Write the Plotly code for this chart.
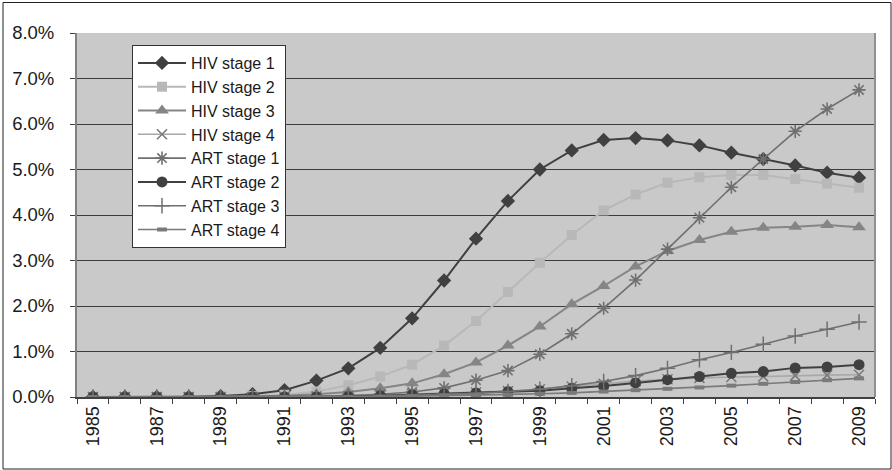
import plotly.graph_objects as go

years = list(range(1985, 2010))

hiv_stage_1 = [0, 0, 0, 0, 0.02, 0.06, 0.15, 0.36, 0.63, 1.08, 1.73, 2.56, 3.48, 4.31, 5.00,
               5.42, 5.65, 5.69, 5.64, 5.53, 5.37, 5.23, 5.09, 4.93, 4.82]
hiv_stage_2 = [0, 0, 0, 0, 0, 0.02, 0.05, 0.12, 0.26, 0.45, 0.71, 1.13, 1.67, 2.31, 2.95,
               3.56, 4.10, 4.45, 4.71, 4.83, 4.88, 4.88, 4.79, 4.69, 4.60]
hiv_stage_3 = [0, 0, 0, 0, 0, 0.01, 0.03, 0.06, 0.11, 0.19, 0.30, 0.50, 0.76, 1.13, 1.55,
               2.04, 2.44, 2.87, 3.21, 3.45, 3.63, 3.72, 3.74, 3.78, 3.73]
hiv_stage_4 = [0, 0, 0, 0, 0, 0, 0, 0.01, 0.02, 0.04, 0.06, 0.08, 0.10, 0.13, 0.17,
               0.23, 0.29, 0.35, 0.39, 0.42, 0.44, 0.45, 0.47, 0.48, 0.49]
art_stage_1 = [0, 0, 0, 0, 0, 0, 0, 0.01, 0.03, 0.06, 0.11, 0.20, 0.37, 0.58, 0.94,
               1.39, 1.95, 2.57, 3.25, 3.94, 4.61, 5.23, 5.84, 6.33, 6.75]
art_stage_2 = [0, 0, 0, 0, 0, 0, 0, 0, 0.01, 0.03, 0.05, 0.07, 0.09, 0.12, 0.14,
               0.19, 0.24, 0.31, 0.38, 0.45, 0.52, 0.56, 0.64, 0.66, 0.71]
art_stage_3 = [0, 0, 0, 0, 0, 0, 0, 0, 0.01, 0.02, 0.04, 0.06, 0.08, 0.12, 0.17,
               0.25, 0.34, 0.47, 0.63, 0.82, 0.98, 1.16, 1.34, 1.49, 1.65]
art_stage_4 = [0, 0, 0, 0, 0, 0, 0, 0, 0, 0.01, 0.02, 0.03, 0.04, 0.05, 0.07,
               0.09, 0.12, 0.15, 0.18, 0.21, 0.25, 0.29, 0.33, 0.37, 0.41]

y_ticks = [0, 1, 2, 3, 4, 5, 6, 7, 8]
x_tick_years = list(range(1985, 2010, 2))

series = [
    ("HIV stage 1", hiv_stage_1, "#404040", "diamond", 11, 2.0, "#404040", 0),
    ("HIV stage 2", hiv_stage_2, "#b8b8b8", "square", 10, 2.0, "#b8b8b8", 0),
    ("HIV stage 3", hiv_stage_3, "#858585", "triangle-up", 12, 2.0, "#858585", 0),
    ("HIV stage 4", hiv_stage_4, "#a8a8a8", "x-thin-open", 10, 1.6, "#7a7a7a", 1.6),
    ("ART stage 1", art_stage_1, "#707070", "asterisk-open", 11, 1.6, "#707070", 1.6),
    ("ART stage 2", art_stage_2, "#404040", "circle", 11, 2.0, "#404040", 0),
    ("ART stage 3", art_stage_3, "#707070", "cross-thin-open", 11, 1.6, "#707070", 1.5),
    ("ART stage 4", art_stage_4, "#7a7a7a", "line-ew-open", 7, 1.6, "#7a7a7a", 4),
]

fig = go.Figure()
for name, vals, color, sym, size, lw, mcolor, mlw in series:
    marker = dict(symbol=sym, size=size, color=mcolor)
    if mlw:
        marker["line"] = dict(color=mcolor, width=mlw)
    fig.add_trace(go.Scatter(
        x=years, y=[v / 100 for v in vals], name=name, mode="lines+markers",
        line=dict(color=color, width=lw), marker=marker,
    ))

W, H = 892, 470
ml, mr, mt, mb = 77, 17, 33, 73
pw, ph = W - ml - mr, H - mt - mb

def px_x(p):
    return (p - ml) / pw

def px_y(p):
    return (H - mb - p) / ph

fig.update_layout(
    width=W, height=H,
    margin=dict(l=ml, r=mr, t=mt, b=mb),
    paper_bgcolor="white",
    plot_bgcolor="#c9c9c9",
    font=dict(family="Liberation Sans, Arial, sans-serif", color="#1a1a1a"),
    showlegend=True,
    legend=dict(
        x=px_x(132), y=px_y(45), xanchor="left", yanchor="top",
        bgcolor="white", bordercolor="#333333", borderwidth=1,
        font=dict(size=16, family="Liberation Sans, Arial, sans-serif", color="#1a1a1a"),
        itemwidth=48,
    ),
    xaxis=dict(
        range=[1984.5, 2009.5],
        tickmode="array", tickvals=x_tick_years, ticktext=[str(y) for y in x_tick_years],
        tickangle=-90, tickfont=dict(size=18),
        ticks="", showgrid=False, zeroline=False,
        showline=True, linecolor="#404040", linewidth=2,
        minor=dict(ticks="outside", tickmode="linear", tick0=1984.5, dtick=1,
                   ticklen=5, tickcolor="#404040", tickwidth=1, showgrid=False),
        fixedrange=True,
    ),
    yaxis=dict(
        range=[0, 0.08],
        tickmode="array", tickvals=[v / 100 for v in y_ticks],
        tickformat=".1%", tickfont=dict(size=18.5),
        ticks="outside", ticklen=5, tickcolor="#404040",
        ticklabelstandoff=12,
        showgrid=True, gridcolor="#3c3c3c", gridwidth=1,
        zeroline=False, showline=True, linecolor="#808080", linewidth=2,
    ),
    shapes=[
        dict(type="rect", xref="paper", yref="paper",
             x0=px_x(3), x1=px_x(891), y0=px_y(469), y1=px_y(2.5),
             line=dict(color="#222222", width=1), fillcolor="rgba(0,0,0,0)", layer="below"),
        dict(type="line", xref="paper", yref="paper", x0=1, x1=1, y0=0, y1=1,
             line=dict(color="#909090", width=2)),
    ],
)

fig.write_html("out.html", config={"displayModeBar": False},
               post_script="document.body.style.margin='0';")
